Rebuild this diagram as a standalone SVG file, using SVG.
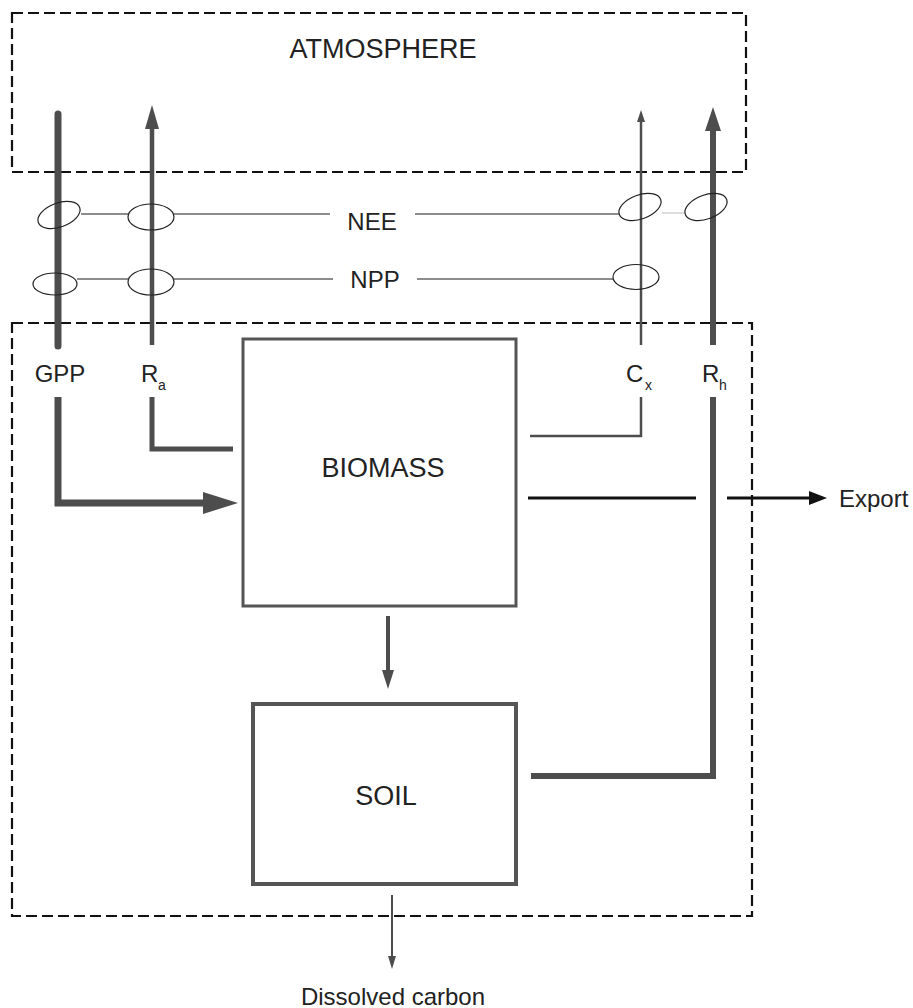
<svg xmlns="http://www.w3.org/2000/svg" width="913" height="1008" viewBox="0 0 913 1008">
<style>
text{font-family:"Liberation Sans",Arial,sans-serif;fill:#222}
.big{font-size:27px}
.lbl{font-size:24px}
.sub{font-size:14px}
.dash{fill:none;stroke:#111;stroke-width:2.2;stroke-dasharray:11 5}
.box{fill:none;stroke:#555;stroke-width:3}
.flow{fill:none;stroke:#4d4d4d;stroke-linejoin:miter}
.head{fill:#4d4d4d}
.ell{fill:none;stroke:#222;stroke-width:1.2}
.tie{stroke:#666;stroke-width:1.4}
</style>
<rect width="913" height="1008" fill="#fff"/>
<g id="atmosphere">
<rect class="dash" x="12" y="13" width="734" height="159"/>
<text class="big" x="383" y="58" text-anchor="middle">ATMOSPHERE</text>
</g>
<g id="ecosystem">
<rect class="dash" x="12" y="323" width="740" height="593"/>
</g>
<g id="biomass">
<rect class="box" x="243" y="339" width="273" height="267"/>
<text class="big" x="383" y="477" text-anchor="middle">BIOMASS</text>
</g>
<g id="soil">
<rect class="box" x="253" y="704" width="263" height="180" style="stroke-width:4"/>
<text class="big" x="386" y="805" text-anchor="middle">SOIL</text>
</g>
<g id="labels">
<text class="lbl" x="60" y="382" text-anchor="middle">GPP</text>
<text class="lbl" x="141" y="382">R</text><text class="sub" x="158" y="390">a</text>
<text class="lbl" x="626" y="382">C</text><text class="sub" x="645" y="390">x</text>
<text class="lbl" x="702" y="382">R</text><text class="sub" x="719" y="390">h</text>
<text class="lbl" x="372" y="230" text-anchor="middle">NEE</text>
<text class="lbl" x="375" y="288" text-anchor="middle">NPP</text>
<text class="lbl" x="839" y="507">Export</text>
<text class="lbl" x="393" y="1005" text-anchor="middle">Dissolved carbon</text>
</g>
<g id="connectors">
<line class="tie" x1="81" y1="214" x2="128" y2="214"/>
<line class="tie" x1="174" y1="214" x2="330" y2="214"/>
<line class="tie" x1="415" y1="214" x2="619" y2="214"/>
<line x1="662" y1="213" x2="685" y2="213" stroke="#bbb" stroke-width="1"/>
<line class="tie" x1="77" y1="279" x2="128" y2="279"/>
<line class="tie" x1="174" y1="279" x2="333" y2="279"/>
<line class="tie" x1="417" y1="279" x2="613" y2="279"/>
<line class="flow" x1="58" y1="346" x2="58" y2="114" stroke-width="7" stroke-linecap="round"/>
<path class="flow" d="M58 397 V503 H206" stroke-width="7"/>
<polygon class="head" points="203,492 238,503 203,514"/>
<line class="flow" x1="152" y1="345" x2="152" y2="126" stroke-width="4.5"/>
<polygon class="head" points="145,129 152,105 159,129"/>
<path class="flow" d="M152 397 V449 H233" stroke-width="5"/>
<line class="flow" x1="641" y1="345" x2="641" y2="120" stroke-width="2.5"/>
<polygon class="head" points="637,122 641,110 645,122"/>
<path class="flow" d="M641 397 V436 H530" stroke-width="2.5"/>
<line class="flow" x1="713" y1="345" x2="713" y2="128" stroke-width="6"/>
<polygon class="head" points="705,131 713,107 721,131"/>
<path class="flow" d="M713 397 V776 H531" stroke-width="6"/>
<line class="flow" x1="388" y1="616" x2="388" y2="672" stroke-width="4"/>
<polygon class="head" points="382,670 388,689 394,670"/>
<line class="flow" x1="392" y1="895" x2="392" y2="959" stroke-width="2"/>
<polygon class="head" points="388,956 392,969 396,956"/>
<line x1="528" y1="498" x2="696" y2="498" stroke="#111" stroke-width="3"/>
<line x1="727" y1="498" x2="812" y2="498" stroke="#111" stroke-width="3"/>
<polygon points="809,491 827,498 809,505" fill="#111"/>
<ellipse class="ell" cx="59" cy="215" rx="22" ry="12" transform="rotate(-20 59 215)"/>
<ellipse class="ell" cx="151" cy="217" rx="23" ry="13"/>
<ellipse class="ell" cx="640" cy="207" rx="22" ry="12" transform="rotate(-20 640 207)"/>
<ellipse class="ell" cx="706" cy="207" rx="22" ry="12" transform="rotate(-20 706 207)"/>
<ellipse class="ell" cx="55" cy="284" rx="22" ry="11"/>
<ellipse class="ell" cx="151" cy="282" rx="23" ry="13"/>
<ellipse class="ell" cx="636" cy="277" rx="23" ry="12.5"/>
</g>
</svg>
